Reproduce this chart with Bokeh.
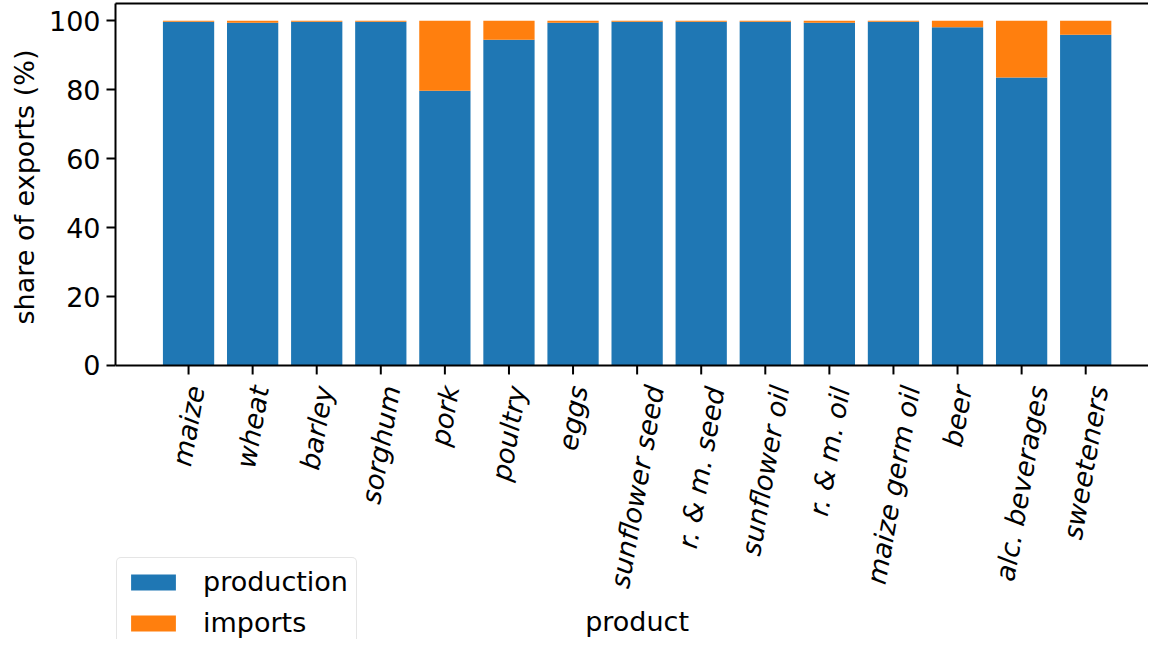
import math
from bokeh.plotting import figure
from bokeh.models import (ColumnDataSource, FixedTicker, Legend, Range1d, LinearAxis,
                          Span, Title)
from bokeh.core.properties import value
from bokeh.embed import file_html
from bokeh.resources import INLINE

products = ["maize", "wheat", "barley", "sorghum", "pork", "poultry", "eggs",
            "sunflower seed", "r. & m. seed", "sunflower oil", "r. & m. oil",
            "maize germ oil", "beer", "alc. beverages", "sweeteners"]
production = [99.7, 99.4, 99.7, 99.7, 79.7, 94.5, 99.4, 99.7, 99.7, 99.7, 99.4, 99.7, 98.1, 83.5, 95.9]
imports = [0.3, 0.6, 0.3, 0.3, 20.3, 5.5, 0.6, 0.3, 0.3, 0.3, 0.6, 0.3, 1.9, 16.5, 4.1]
y_ticks = [0, 20, 40, 60, 80, 100]
y_title = "share of exports (%)"

FONT = "DejaVu Sans"
FS = 27
W, H = 1148, 639
LEFT, TOP = 115, 3
X0, X1 = -1.14, 14.98
Y0, Y1 = -79.5, 105          # frame reaches the canvas bottom; axes box is 0..105
ANGLE = math.radians(80)
PPUY = (H - TOP) / (Y1 - Y0)
TICK = 9                      # px

DW = {'a': .613, 'b': .635, 'c': .550, 'd': .635, 'e': .615, 'f': .352, 'g': .635,
      'h': .634, 'i': .278, 'k': .579, 'l': .278, 'm': .974, 'n': .634, 'o': .612,
      'p': .635, 'r': .411, 's': .521, 't': .392, 'u': .634, 'v': .592, 'w': .818,
      'x': .592, 'y': .592, 'z': .525, ' ': .318, '.': .318, '&': .780,
      '(': .390, ')': .390, '%': .950}

def text_len(s):
    return sum(DW.get(c, 0.6) for c in s) * FS

# centre of each rotated label box below the axis
yoff = []
for s in products:
    bh = text_len(s) * math.sin(ANGLE) + 1.1 * FS * math.cos(ANGLE)
    yoff.append(18 + bh / 2)

xs = list(range(len(products)))
src = ColumnDataSource(dict(x=xs, production=production, imports=imports,
                            label=products, yoff=yoff,
                            y0=[0] * len(xs), y1=[-TICK / PPUY] * len(xs)))

p = figure(width=W, height=H, output_backend="svg", toolbar_location=None,
           x_range=Range1d(X0, X1), y_range=Range1d(Y0, Y1),
           x_axis_location=None,
           min_border_left=LEFT, min_border_right=0, min_border_top=TOP,
           min_border_bottom=0)
p.outline_line_color = None
p.grid.visible = False

# x ticks (drawn under the bars), bars
p.segment(x0="x", y0="y0", x1="x", y1="y1", source=src, line_color="black", line_width=2)
rs = p.vbar_stack(["production", "imports"], x="x", width=0.8, source=src,
                  color=["#1f77b4", "#ff7f0e"], line_color=None)

# category labels
p.text(x="x", y="y0", text="label", source=src, angle=ANGLE,
       text_align="center", text_baseline="middle", y_offset="yoff",
       text_font=value(FONT), text_font_size=value(f"{FS}px"),
       text_font_style="italic", text_color="black")

# x-axis title
p.text(x=[xs[len(xs) // 2]], y=[0], text=["product"], y_offset=256,
       text_align="center", text_baseline="middle",
       text_font=value(FONT), text_font_size=value(f"{FS}px"), text_color="black")

# bottom spine at y = 0
p.add_layout(Span(location=0, dimension="width", line_color="black", line_width=2))

# y axis (only over the axes box)
ya = p.yaxis[0]
ya.bounds = (0, Y1)
ya.ticker = FixedTicker(ticks=y_ticks)
ya.major_label_text_font = FONT
ya.major_label_text_font_size = f"{FS}px"
ya.major_label_text_color = "black"
ya.major_tick_out = TICK
ya.major_tick_in = 0
ya.minor_tick_out = 0
ya.minor_tick_in = 0
ya.axis_line_color = "black"
ya.axis_line_width = 2
ya.major_tick_line_color = "black"
ya.major_tick_line_width = 2
ya.major_label_standoff = 6

# y-axis title, centred over the 0..105 box (text starts at the bottom, reads upward)
box_mid = TOP + Y1 * PPUY / 2 + 2
p.add_layout(Title(text=y_title, align="left",
                   offset=H - (box_mid + text_len(y_title) / 2), standoff=11,
                   text_font=FONT, text_font_size=f"{FS}px",
                   text_font_style="normal", text_color="black"), "left")

# top spine
ax_top = LinearAxis(ticker=FixedTicker(ticks=[]))
ax_top.axis_line_color = "black"
ax_top.axis_line_width = 2
ax_top.major_tick_out = 0
ax_top.major_tick_in = 0
ax_top.minor_tick_out = 0
ax_top.minor_tick_in = 0
ax_top.major_label_standoff = 0
p.add_layout(ax_top, "above")

# legend below-left, cut at the bottom like the original
legend = Legend(items=[("production", [rs[0]]), ("imports", [rs[1]])],
                location=(1, -8))
legend.label_text_font = FONT
legend.label_text_font_size = f"{FS}px"
legend.label_text_color = "black"
legend.glyph_width = 56
legend.glyph_height = 20
legend.spacing = 10
legend.padding = 8
legend.margin = 0
legend.label_standoff = 22
legend.border_line_color = "#cccccc"
legend.border_line_width = 1.5
legend.background_fill_color = "white"
legend.background_fill_alpha = 0.8
if "border_radius" in Legend.properties():
    legend.border_radius = 5
p.add_layout(legend, "center")

open("out.html", "w").write(file_html(p, INLINE))
